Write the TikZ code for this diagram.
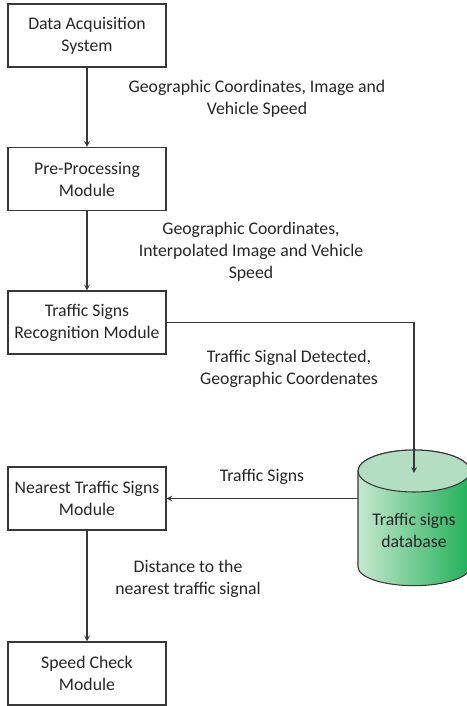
\documentclass[tikz,border=0pt]{standalone}
\usepackage{fontspec}
\setmainfont{Carlito}
\definecolor{lineg}{RGB}{56,56,56}
\definecolor{txtg}{RGB}{38,38,38}
\definecolor{dblight}{RGB}{198,232,207}
\definecolor{dbdark}{RGB}{32,176,88}
\definecolor{dbtop}{RGB}{180,222,194}
\tikzset{
	modbox/.style={draw=lineg,line width=0.8pt,minimum width=118.5pt,minimum height=47.25pt,align=center,inner sep=1pt,text=txtg},
	flowtxt/.style={align=center,text=txtg},
	flow/.style={draw=lineg,line width=0.9pt,-stealth}
}
\begin{document}
		      \begin{tikzpicture}[x=0.75pt,y=-0.75pt,font=\fontsize{13.3pt}{16.5pt}\selectfont]
			      \useasboundingbox (0,0) rectangle (467,706);
			      \node[modbox] (acq) at (87,35.5) {Data Acquisition\\System};
			      \node[modbox] (pre) at (87,179) {Pre-Processing\\Module};
			      \node[modbox] (tsr) at (87,322.5) {Traffic Signs\\Recognition Module};
			      \node[modbox] (nts) at (87,498.5) {Nearest Traffic Signs\\Module};
			      \node[modbox] (spd) at (87,673.5) {Speed Check\\Module};
			      \shade[draw=lineg,line width=0.8pt,left color=dblight,right color=dbdark]
			      (358,471)--(358,567)arc[start angle=180,end angle=360,x radius=42pt,y radius=14pt]
			      --(470,471)arc[start angle=0,end angle=180,x radius=42pt,y radius=15.75pt]--cycle;
			      \draw[lineg,line width=0.8pt,fill=dbtop](414,471)ellipse[x radius=42pt,y radius=15.75pt];
			      \node[flowtxt] (db) at (414,530) {Traffic signs\\database};
			      \coordinate (dbtop) at (414,473);
			      \coordinate (dbleft) at (358,498.5);
			      \node[flowtxt] (l1) at (257,99) {Geographic Coordinates, Image and\\Vehicle Speed};
			      \node[flowtxt] (l2) at (251,251.5) {Geographic Coordinates,\\Interpolated Image and Vehicle\\Speed};
			      \node[flowtxt] (l3) at (289,369) {Traffic Signal Detected,\\Geographic Coordenates};
			      \node[flowtxt] (l4) at (262,477) {Traffic Signs};
			      \node[flowtxt] (l5) at (188,579) {Distance to the\\nearest traffic signal};
			      \draw[flow] (acq)--(pre);
			      \draw[flow] (pre)--(tsr);
			      \draw[flow] (tsr.east)-|(dbtop);
			      \draw[flow] (dbleft)--(nts.east);
			      \draw[flow] (nts)--(spd);
		      \end{tikzpicture}
\end{document}
